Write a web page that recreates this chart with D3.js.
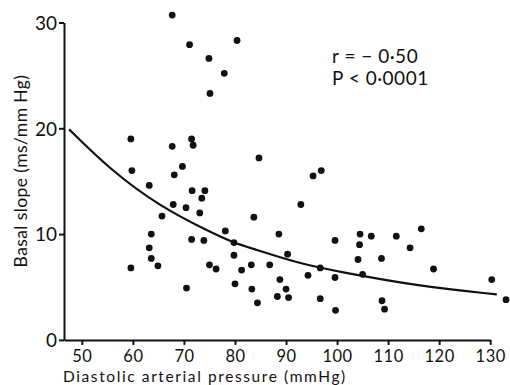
<!DOCTYPE html>
<html>
<head>
<meta charset="utf-8">
<script src="https://cdn.jsdelivr.net/npm/d3@7"></script>
<style>
  body { margin: 0; background: #fff; }
  text { font-family: "Lato", "DejaVu Sans", sans-serif; fill: #111; }
</style>
</head>
<body>
<script>
// diastolic pressure (mmHg) and basal slope (ms/mmHg)
var pressure = [67.7, 71.1, 59.6, 71.5, 67.7, 71.8, 59.8, 69.7, 68.1, 63.2,
  71.6, 74.1, 73.5, 67.9, 70.4, 73.1, 65.7, 63.6, 71.5, 73.9,
  63.2, 63.6, 64.9, 59.6, 70.5,
  80.4, 74.9, 77.9, 75.1, 84.7, 95.3, 96.9, 92.9, 83.7, 78.1,
  79.8, 88.6, 99.6, 79.8, 90.3, 75.0, 76.3, 81.3, 83.2, 86.8,
  96.7, 99.6, 94.3, 88.8, 80.0, 83.3, 90.0, 88.3, 90.5, 96.7,
  84.4, 99.7,
  104.5, 106.7, 104.4, 111.6, 116.5, 114.3, 104.1, 108.7, 105.0, 118.9,
  130.3, 133.1, 108.8, 109.3];
var slope = [30.7, 27.9, 19.0, 19.0, 18.3, 18.4, 16.0, 16.4, 15.6, 14.6,
  14.1, 14.1, 13.4, 12.8, 12.5, 12.0, 11.7, 10.0, 9.5, 9.4,
  8.7, 7.7, 7.0, 6.8, 4.9,
  28.3, 26.6, 25.2, 23.3, 17.2, 15.5, 16.0, 12.8, 11.6, 10.3,
  9.2, 10.0, 9.4, 8.0, 8.1, 7.1, 6.7, 6.6, 7.1, 7.1,
  6.8, 5.9, 6.1, 5.7, 5.3, 4.8, 4.8, 4.1, 4.0, 3.9,
  3.5, 2.8,
  10.0, 9.8, 9.0, 9.8, 10.5, 8.7, 7.6, 7.7, 6.2, 6.7,
  5.7, 3.8, 3.7, 2.9];

// fitted curve, points
var curveX = [47.5, 55.5, 65.3, 75.1, 79.7, 83.0, 92.7, 99.8, 115.6, 131.3];
var curveY = [19.9, 16.1, 12.6, 10.2, 9.2, 8.7, 7.2, 6.5, 5.1, 4.3];

var xTicks = [50, 60, 70, 80, 90, 100, 110, 120, 130];
var yTicks = [0, 10, 20, 30];
var statLines = ["r = \u2212 0\u00b750", "P <  0\u00b70001"];

var w = 510, h = 385;

var svg = d3
  .select("body")
  .append("svg")
  .attr("width", w)
  .attr("height", h);

var x = d3.scaleLinear().domain([46.5, 130]).range([64, 490.2]);
var y = d3.scaleLinear().domain([0, 30]).range([339.9, 22.5]);

// axes
var xAxis = d3.axisBottom(x)
  .tickValues(xTicks)
  .tickSize(5)
  .tickSizeOuter(0)
  .tickFormat(d3.format("d"));
var yAxis = d3.axisLeft(y)
  .tickValues(yTicks)
  .tickSize(5)
  .tickSizeOuter(0)
  .tickFormat(d3.format("d"));

var gx = svg.append("g")
  .attr("class", "x axis")
  .attr("transform", "translate(0," + y(0) + ")")
  .call(xAxis);
var gy = svg.append("g")
  .attr("class", "y axis")
  .attr("transform", "translate(" + x(46.5) + ",0)")
  .call(yAxis);

svg.selectAll(".axis path, .axis line")
  .attr("stroke", "#111")
  .attr("stroke-width", 2);
svg.selectAll(".axis text")
  .attr("fill", "#111")
  .style("font-family", "Lato, sans-serif");

gx.selectAll("text")
  .attr("font-size", 16.5)
  .attr("letter-spacing", 0.5)
  .attr("dy", 0)
  .attr("y", 22);
gy.selectAll("text")
  .attr("font-size", 19)
  .attr("x", -7)
  .attr("dy", "0.36em");

// axis titles
svg.append("text")
  .attr("x", 63)
  .attr("y", 381.5)
  .attr("font-size", 15.5)
  .attr("letter-spacing", 1.6)
  .text("Diastolic arterial pressure (mmHg)");

svg.append("text")
  .attr("transform", "translate(27,171) rotate(-90)")
  .attr("text-anchor", "middle")
  .attr("font-size", 17.5)
  .attr("letter-spacing", 0.4)
  .text("Basal slope (ms/mm Hg)");

// statistics
svg.selectAll("text.stat")
  .data(statLines)
  .enter()
  .append("text")
  .attr("class", "stat")
  .attr("x", 332)
  .attr("y", function (d, i) { return 63 + i * 22; })
  .attr("font-size", 19)
  .attr("letter-spacing", 0.5)
  .text(function (d) { return d; });

// fitted curve
var line = d3.line()
  .x(function (d) { return x(d[0]); })
  .y(function (d) { return y(d[1]); })
  .curve(d3.curveBasis);

svg.append("path")
  .datum(curveX.map(function (d, i) { return [d, curveY[i]]; }))
  .attr("d", line)
  .attr("fill", "none")
  .attr("stroke", "#111")
  .attr("stroke-width", 2.2);

// points
svg.selectAll("circle")
  .data(pressure)
  .enter()
  .append("circle")
  .attr("cx", function (d) { return x(d); })
  .attr("cy", function (d, i) { return y(slope[i]); })
  .attr("r", 3.4)
  .attr("fill", "#111");
</script>
</body>
</html>
